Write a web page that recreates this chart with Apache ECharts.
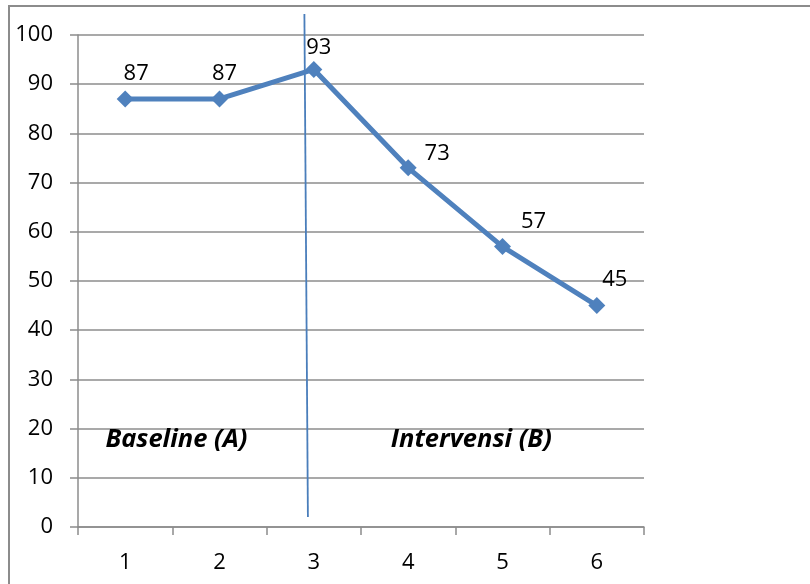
<!DOCTYPE html>
<html>
<head>
<meta charset="utf-8">
<script src="https://cdn.jsdelivr.net/npm/echarts@6/dist/echarts.min.js"></script>
<style>
  html, body { margin: 0; padding: 0; background: #fff; }
  #chart { width: 810px; height: 584px; }
</style>
</head>
<body>
<div id="chart"></div>
<script>
// Sessions and scores
const sessions = ['1', '2', '3', '4', '5', '6'];
const scores = [87, 87, 93, 73, 57, 45];
// Offsets of each value label from its point (px)
const labelOffsets = [[11, 4], [5, 4], [5, 8], [29, 15], [31, 5], [18, 4]];
const yTicks = { min: 0, max: 100, interval: 10 };
const phaseNames = ['Baseline (A)', 'Intervensi (B)'];

const FONT = '"Open Sans", Lato, sans-serif';
const GRID_GREY = '#8c8c8c';
const LINE_BLUE = '#4f81bd';

const chart = echarts.init(document.getElementById('chart'), null, { renderer: 'canvas' });

const option = {
  animation: false,
  backgroundColor: '#fff',
  grid: { left: 78, right: 166, top: 35, bottom: 57 },
  xAxis: {
    type: 'category',
    data: sessions,
    boundaryGap: true,
    axisLine: { lineStyle: { color: GRID_GREY, width: 1.5 } },
    axisTick: { show: true, length: 8, alignWithLabel: false, lineStyle: { color: GRID_GREY, width: 1.5 } },
    axisLabel: { color: '#000', fontFamily: FONT, fontSize: 22, margin: 25 },
    splitLine: { show: false }
  },
  yAxis: {
    type: 'value',
    min: yTicks.min,
    max: yTicks.max,
    interval: yTicks.interval,
    axisLine: { show: true, lineStyle: { color: GRID_GREY, width: 1.5 } },
    axisTick: { show: true, length: 8, lineStyle: { color: GRID_GREY, width: 1.5 } },
    axisLabel: { color: '#000', fontFamily: FONT, fontSize: 22, margin: 25 },
    splitLine: { show: true, lineStyle: { color: GRID_GREY, width: 1.5 } }
  },
  series: [{
    type: 'line',
    data: scores.map((v, i) => ({
      value: v,
      label: { offset: labelOffsets[i] }
    })),
    symbol: 'diamond',
    symbolSize: 17,
    lineStyle: { color: LINE_BLUE, width: 5 },
    itemStyle: { color: LINE_BLUE },
    label: {
      show: true,
      position: 'top',
      distance: 10,
      color: '#000',
      fontFamily: FONT,
      fontSize: 22
    },
    z: 3
  }]
};

chart.setOption(option);

// Phase divider and phase captions placed from the axis scale
const toPx = (pt) => chart.convertToPixel({ xAxisIndex: 0, yAxisIndex: 0 }, pt);
const p1 = toPx([0, 20]);
const p2 = toPx([1, 20]);
const p3 = toPx([2, 20]);
const p4 = toPx([3, 20]);
const p5 = toPx([4, 20]);
const yTop = chart.convertToPixel({ yAxisIndex: 0 }, 100);
const yBottom = chart.convertToPixel({ yAxisIndex: 0 }, 0);
const divX = p2[0] + 0.9 * (p3[0] - p2[0]);

chart.setOption({
  graphic: [
    {
      type: 'rect',
      shape: { x: 9, y: 6, width: 900, height: 700 },
      style: { fill: null, stroke: GRID_GREY, lineWidth: 2 },
      silent: true, z: 0
    },
    {
      type: 'line',
      shape: { x1: divX, y1: yTop - 21, x2: divX + 3.5, y2: yBottom - 10 },
      style: { stroke: '#4a7ebb', lineWidth: 1.8 },
      z: 2
    },
    {
      type: 'text',
      x: (p1[0] + p2[0]) / 2 + 4,
      y: p1[1] + 11,
      style: {
        text: phaseNames[0], fill: '#000', font: 'italic bold 25.5px ' + FONT,
        textAlign: 'center', textVerticalAlign: 'middle'
      },
      z: 4
    },
    {
      type: 'text',
      x: (p4[0] + p5[0]) / 2 + 16,
      y: p4[1] + 11,
      style: {
        text: phaseNames[1], fill: '#000', font: 'italic bold 25.5px ' + FONT,
        textAlign: 'center', textVerticalAlign: 'middle'
      },
      z: 4
    }
  ]
});
</script>
</body>
</html>
